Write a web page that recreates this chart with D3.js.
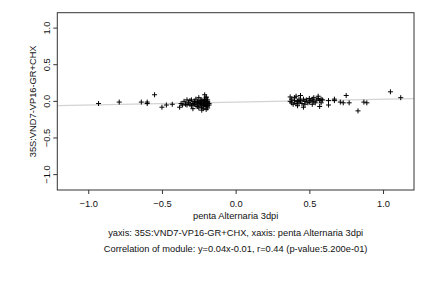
<!DOCTYPE html>
<html>
<head>
<meta charset="utf-8">
<script src="https://cdn.jsdelivr.net/npm/d3@7"></script>
<style>
  body { margin: 0; background: #fff; }
  text { font-family: "Liberation Sans", Arial, sans-serif; font-size: 9.3px; fill: #111; }
</style>
</head>
<body>
<div id="chart"></div>
<script>
const width = 432;
const height = 288;
const margin = { top: 12.7, right: 18, bottom: 98, left: 57.3 };

const xTicks = [-1.0, -0.5, 0.0, 0.5, 1.0];
const yTicks = [-1.0, -0.5, 0.0, 0.5, 1.0];
const xTitle = 'penta Alternaria 3dpi';
const yTitle = '35S:VND7-VP16-GR+CHX';
const subTitle = 'yaxis: 35S:VND7-VP16-GR+CHX, xaxis: penta Alternaria 3dpi';
const corrText = 'Correlation of module: y=0.04x-0.01, r=0.44 (p-value:5.200e-01)';
const fit = { slope: 0.04, intercept: -0.01 };

// x, y pairs
const pointsX = [
  -0.93, -0.79, -0.64, -0.60, -0.60, -0.55, -0.50, -0.47, -0.43, -0.38,
  -0.37, -0.36, -0.35, -0.34, -0.33, -0.33, -0.32, -0.31, -0.31, -0.30,
  -0.30, -0.29, -0.29, -0.28, -0.28, -0.27, -0.27, -0.26, -0.26, -0.25,
  -0.25, -0.25, -0.24, -0.24, -0.24, -0.23, -0.23, -0.23, -0.22, -0.22,
  -0.22, -0.22, -0.21, -0.21, -0.21, -0.21, -0.20, -0.20, -0.20, -0.20,
  -0.20, -0.19, -0.19, -0.19, -0.19, -0.19, -0.18, -0.18, -0.20, -0.23,
  -0.21, -0.24, -0.26, -0.28,
  0.37, 0.37, 0.38, 0.38, 0.39, 0.40, 0.40, 0.41, 0.41, 0.42,
  0.42, 0.43, 0.43, 0.44, 0.44, 0.45, 0.46, 0.46, 0.47, 0.47,
  0.48, 0.49, 0.50, 0.50, 0.51, 0.52, 0.52, 0.53, 0.53, 0.54,
  0.55, 0.56, 0.56, 0.57, 0.57, 0.58, 0.58, 0.59,
  0.63, 0.63, 0.67, 0.67, 0.71, 0.73, 0.75, 0.77, 0.83, 0.87,
  0.89, 1.05, 1.12
];
const pointsY = [
  -0.03, -0.01, -0.01, -0.03, -0.01, 0.09, -0.08, -0.05, -0.04, -0.08,
  -0.03, -0.05, 0.00, -0.04, 0.02, -0.05, -0.02, 0.01, -0.04, -0.06,
  0.02, -0.03, -0.10, -0.01, 0.00, -0.05, 0.03, -0.02, -0.07, 0.05,
  -0.03, -0.09, -0.01, -0.05, 0.01, -0.04, -0.08, 0.02, -0.02, -0.06,
  0.00, -0.10, 0.09, -0.03, -0.05, 0.03, -0.01, -0.07, 0.05, -0.04,
  -0.11, -0.02, 0.00, -0.06, 0.02, -0.09, -0.03, -0.05, 0.06, -0.12,
  0.01, -0.03, 0.00, -0.04,
  0.06, 0.00, -0.02, 0.03, -0.04, 0.01, 0.05, -0.03, 0.07, 0.00,
  -0.06, 0.03, -0.02, 0.08, 0.01, -0.03, 0.03, -0.08, 0.00, -0.04,
  0.02, -0.02, 0.04, -0.01, 0.01, -0.04, 0.03, 0.05, 0.00, -0.02,
  0.02, 0.07, 0.04, -0.07, 0.01, -0.02, 0.03, 0.02,
  0.01, -0.05, 0.03, 0.01, -0.01, -0.02, 0.08, -0.02, -0.13, -0.01,
  -0.02, 0.13, 0.05
];

const svg = d3.select('#chart')
  .append('svg')
  .attr('width', width)
  .attr('height', height);

const x = d3.scaleLinear()
  .domain([-1.21, 1.21])
  .range([margin.left, width - margin.right]);
const y = d3.scaleLinear()
  .domain([-1.21, 1.21])
  .range([height - margin.bottom, margin.top]);

// regression line
const xd = x.domain();
svg.append('line')
  .attr('x1', x(xd[0])).attr('y1', y(fit.slope * xd[0] + fit.intercept))
  .attr('x2', x(xd[1])).attr('y2', y(fit.slope * xd[1] + fit.intercept))
  .attr('stroke', '#d3d3d3')
  .attr('stroke-width', 1.2);

// points as plus signs
const s = 2.5;
const pts = svg.append('g');
pointsX.forEach((px, i) => {
  const cx = x(px), cy = y(pointsY[i]);
  pts.append('path')
    .attr('d', `M${cx - s},${cy}H${cx + s}M${cx},${cy - s}V${cy + s}`)
    .attr('stroke', '#000')
    .attr('stroke-width', 1);
});

// frame
svg.append('rect')
  .attr('x', margin.left)
  .attr('y', margin.top)
  .attr('width', width - margin.left - margin.right)
  .attr('height', height - margin.top - margin.bottom)
  .attr('fill', 'none')
  .attr('stroke', '#333')
  .attr('stroke-width', 1);

const xAxis = d3.axisBottom(x)
  .tickValues(xTicks)
  .tickSize(4)
  .tickPadding(6)
  .tickFormat(d3.format('.1f'));
const gx = svg.append('g')
  .attr('transform', `translate(0,${height - margin.bottom})`)
  .call(xAxis);
gx.select('.domain').remove();
gx.selectAll('line').attr('stroke', '#333');
gx.selectAll('text').style('font-size', '9.3px').attr('fill', '#111');

const yAxis = d3.axisLeft(y)
  .tickValues(yTicks)
  .tickSize(4)
  .tickPadding(6)
  .tickFormat(d3.format('.1f'));
const gy = svg.append('g')
  .attr('transform', `translate(${margin.left},0)`)
  .call(yAxis);
gy.select('.domain').remove();
gy.selectAll('line').attr('stroke', '#333');
gy.selectAll('text')
  .style('font-size', '9.3px')
  .attr('fill', '#111')
  .attr('x', 0).attr('dy', 0)
  .attr('text-anchor', 'middle')
  .attr('transform', d => `translate(-10,${y(d)}) rotate(-90)`)
  .attr('y', 3);
gy.selectAll('.tick').attr('transform', null);
gy.selectAll('.tick line').attr('y1', d => y(d)).attr('y2', d => y(d));

svg.append('text')
  .attr('x', (margin.left + width - margin.right) / 2)
  .attr('y', 219)
  .attr('text-anchor', 'middle')
  .text(xTitle);

svg.append('text')
  .attr('transform', `translate(36,${(margin.top + height - margin.bottom) / 2}) rotate(-90)`)
  .attr('text-anchor', 'middle')
  .text(yTitle);

svg.append('text')
  .attr('x', (margin.left + width - margin.right) / 2)
  .attr('y', 236)
  .attr('text-anchor', 'middle')
  .text(subTitle);

svg.append('text')
  .attr('x', (margin.left + width - margin.right) / 2)
  .attr('y', 252)
  .attr('text-anchor', 'middle')
  .text(corrText);
</script>
</body>
</html>
